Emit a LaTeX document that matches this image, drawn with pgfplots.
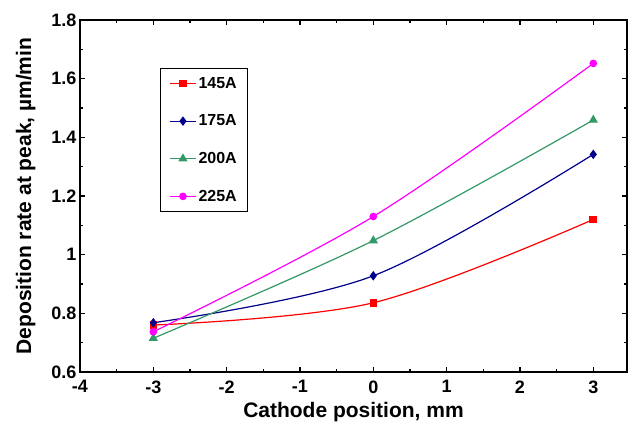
\documentclass[border=0pt]{standalone}
\usepackage{pgfplots}
\pgfplotsset{compat=1.18}
\usepackage{fontspec}
\setmainfont{Liberation Sans}
\definecolor{cRed}{RGB}{255,0,0}
\definecolor{cNavy}{RGB}{0,0,140}
\definecolor{cGreen}{RGB}{51,153,102}
\definecolor{cMag}{RGB}{255,0,255}
\begin{document}
\begin{tikzpicture}
\begin{axis}[
  scale only axis,
  width=547pt, height=352pt,
  xmin=-4, xmax=3.46, ymin=0.6, ymax=1.8,
  xtick={-4,-3,-2,-1,0,1,2,3},
  ytick={0.6,0.8,1,1.2,1.4,1.6,1.8},
  minor x tick num=1, minor y tick num=1,
  tick align=inside,
  major tick length=5pt, minor tick length=3pt,
  tick style={black, line width=1.2pt},
  axis line style={line width=1.6pt},
  /pgf/number format/assume math mode=true,
  ticklabel style={font=\fontsize{18}{21}\selectfont\bfseries},
  xticklabel style={yshift=-5pt},
  yticklabel style={xshift=0pt},
  label style={font=\fontsize{21}{24}\selectfont\bfseries},
  xlabel={Cathode position, mm},
  ylabel={Deposition rate at peak, µm/min},
  xlabel style={yshift=-2pt},
  ylabel style={yshift=9pt},
  legend style={at={(0.146,0.864)}, anchor=north west, draw=black, line width=1pt,
    font=\fontsize{16}{18}\selectfont\bfseries, row sep=21pt,
    inner xsep=9pt, inner ysep=7pt},
  legend cell align=left,
  legend image code/.code={\draw[mark repeat=2,mark phase=2,line width=1.2pt] plot coordinates {(0pt,0pt) (13pt,0pt) (26pt,0pt)};},
]
\addplot[color=cRed, line width=1.2pt, smooth, tension=0.55, mark=square*, mark size=3.2pt, mark options={solid}]
  coordinates {(-3,0.76) (0,0.836) (3,1.12)};
\addlegendentry{145A}
\addplot[color=cNavy, line width=1.2pt, smooth, tension=0.55, mark=diamond*, mark size=3.8pt]
  coordinates {(-3,0.768) (0,0.928) (3,1.342)};
\addlegendentry{175A}
\addplot[color=cGreen, line width=1.2pt, smooth, tension=0.55, mark=triangle*, mark size=4.2pt]
  coordinates {(-3,0.715) (0,1.048) (3,1.459)};
\addlegendentry{200A}
\addplot[color=cMag, line width=1.2pt, smooth, tension=0.55, mark=*, mark size=3.2pt]
  coordinates {(-3,0.737) (0,1.13) (3,1.652)};
\addlegendentry{225A}
\end{axis}
\pgfresetboundingbox
\useasboundingbox ([shift={(-80pt,-53pt)}]current axis.south west) rectangle ([shift={(548pt,372pt)}]current axis.south west);
\end{tikzpicture}
\end{document}
